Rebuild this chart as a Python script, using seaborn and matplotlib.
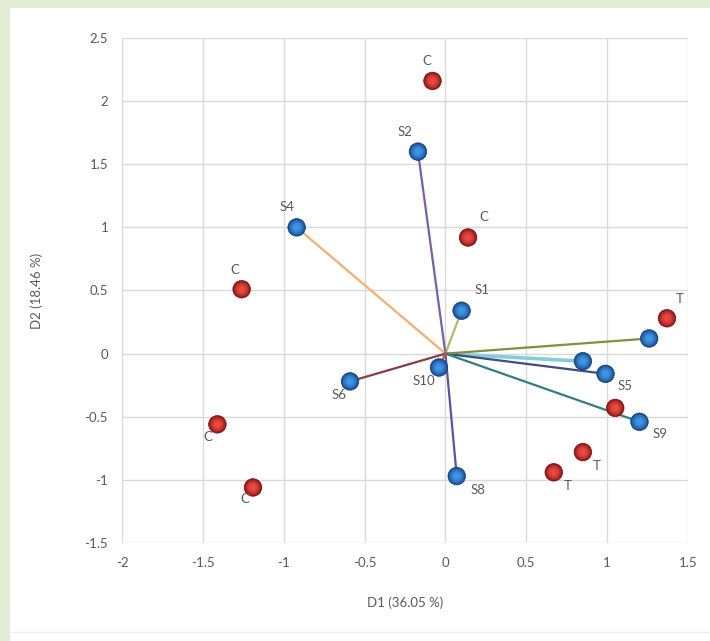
import numpy as np
import pandas as pd
import matplotlib
matplotlib.use("Agg")
import matplotlib.pyplot as plt
import seaborn as sns
from matplotlib.colors import to_rgb

# Variable loadings (blue vectors)
var_names = ["S1", "S2", "S3", "S4", "S5", "S6", "S7", "S8", "S9", "S10"]
var_d1 = [0.10, -0.17, 0.85, -0.92, 0.99, -0.59, 1.26, 0.07, 1.20, -0.04]
var_d2 = [0.34, 1.60, -0.06, 1.00, -0.16, -0.22, 0.12, -0.97, -0.54, -0.11]
var_labels = ["S1", "S2", "", "S4", "S5", "S6", "", "S8", "S9", "S10"]

# Observation scores (red points)
obs_labels = ["C", "C", "C", "C", "C", "T", "T", "T", "T"]
obs_d1 = [-0.08, 0.14, -1.26, -1.41, -1.19, 1.37, 1.05, 0.85, 0.67]
obs_d2 = [2.16, 0.92, 0.51, -0.56, -1.06, 0.28, -0.43, -0.78, -0.94]

x_ticks = [-2, -1.5, -1, -0.5, 0, 0.5, 1, 1.5]
y_ticks = [-1.5, -1, -0.5, 0, 0.5, 1, 1.5, 2, 2.5]
x_title = "D1 (36.05 %)"
y_title = "D2 (18.46 %)"

# Styling
vec_colors = {"S1": "#a3c35f", "S2": "#7c5fa8", "S3": "#86cbd9", "S4": "#f7ad6e",
              "S5": "#3f4c7c", "S6": "#8a3a48", "S7": "#7f9040", "S8": "#5f50a0",
              "S9": "#2f7d86", "S10": "#c0504d"}
vec_widths = {"S3": 2.6}
# label offsets in points (x right, y up)
var_offsets = {"S1": (15, 15), "S2": (-9, 14), "S3": (0, 0), "S4": (-7, 15),
               "S5": (14, -9), "S6": (-8, -10), "S7": (0, 0), "S8": (15, -10),
               "S9": (15, -9), "S10": (-11, -10)}
obs_offsets = [(-4, 14), (11, 15), (-5, 14), (-7, -9), (-6, -8),
               (9, 14), (0, 0), (10, -10), (10, -10)]
obs_show = [True, True, True, True, True, True, False, True, True]
text_color = "#595959"
grid_color = "#d9d9d9"

sns.set_theme(style="white")
plt.rcParams["font.family"] = ["Lato", "DejaVu Sans"]

fig = plt.figure(figsize=(7.1, 6.41), dpi=100)
fig.patch.set_facecolor("#e3edd4")
# white chart panel
panel = plt.Rectangle((10 / 710, 0), 1, 1 - 8 / 641, transform=fig.transFigure,
                      facecolor="white", edgecolor="none", zorder=-10)
fig.patches.append(panel)
fig.add_artist(plt.Line2D([10 / 710, 1], [1 - 632 / 641] * 2, transform=fig.transFigure,
                          color="#eeeeee", lw=1, zorder=-5))

ax = fig.add_axes([122 / 710, 1 - 543 / 641, 566 / 710, 505 / 641])
ax.set_zorder(1)
ax.set_facecolor("white")
ax.set_xticks(x_ticks)
ax.set_yticks(y_ticks)
ax.set_xticklabels([f"{t:g}" for t in x_ticks])
ax.set_yticklabels([f"{t:g}" for t in y_ticks])
ax.grid(True, color=grid_color, lw=1)
ax.set_axisbelow(True)
for s in ax.spines.values():
    s.set_visible(False)
ax.tick_params(axis="both", length=0, labelsize=9.5, labelcolor=text_color, pad=10)

# vectors from the origin
for name, x, y in zip(var_names, var_d1, var_d2):
    ax.plot([0, x], [0, y], color=vec_colors[name], lw=vec_widths.get(name, 1.6),
            zorder=2, solid_capstyle="round")

var_df = pd.DataFrame({"D1": var_d1, "D2": var_d2, "name": var_names})
obs_df = pd.DataFrame({"D1": obs_d1, "D2": obs_d2, "label": obs_labels})


def sphere(df, dark, light, z):
    """Shaded ball markers built from stacked circles."""
    d = np.array(to_rgb(dark))
    l = np.array(to_rgb(light))
    sizes = np.linspace(160, 15, 9)
    for i, s in enumerate(sizes):
        t = i / (len(sizes) - 1)
        c = tuple(d * (1 - t) + l * t)
        sns.scatterplot(data=df, x="D1", y="D2", s=s, color=c, edgecolor="none",
                        linewidth=0, ax=ax, zorder=z, legend=False)
    sns.scatterplot(data=df, x="D1", y="D2", s=160, facecolor="none",
                    edgecolor=tuple(d * 0.85), linewidth=0.5, ax=ax, zorder=z, legend=False)


sphere(obs_df, "#8e1414", "#e84a42", 4)
sphere(var_df, "#17498f", "#3f95e4", 5)
ax.set_xlim(-2, 1.5)
ax.set_ylim(-1.5, 2.5)
ax.set_xlabel(x_title, fontsize=9.5, color=text_color, labelpad=20)
ax.set_ylabel(y_title, fontsize=9.5, color=text_color, labelpad=30)

for name, lab, x, y in zip(var_names, var_labels, var_d1, var_d2):
    if lab:
        ax.annotate(lab, (x, y), xytext=var_offsets[name], textcoords="offset points",
                    ha="center", va="center", fontsize=9.5, color=text_color, zorder=6)
for lab, x, y, off, show in zip(obs_labels, obs_d1, obs_d2, obs_offsets, obs_show):
    if show:
        ax.annotate(lab, (x, y), xytext=off, textcoords="offset points",
                    ha="center", va="center", fontsize=9.5, color=text_color, zorder=6)

fig.savefig("out.png", dpi=100)
